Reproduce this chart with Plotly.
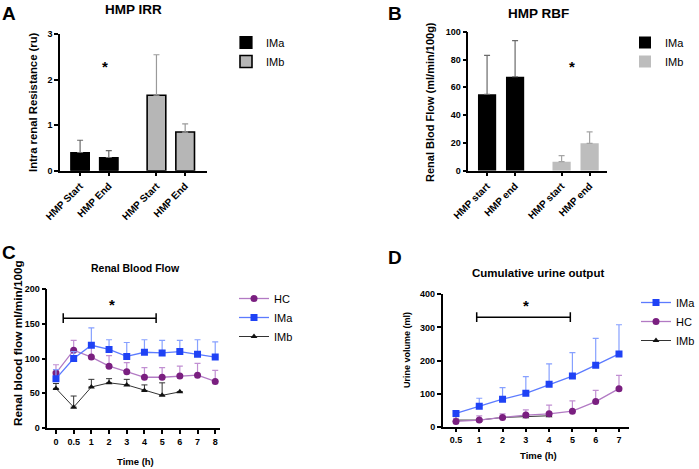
import plotly.graph_objects as go

W, H = 699, 469
FONT = "Liberation Sans, Arial, sans-serif"

# ---------------- data ----------------
# Panel A: HMP IRR
A_labels = ["HMP Start", "HMP End"]
A_ima = [0.40, 0.29]
A_ima_sd = [0.27, 0.15]
A_imb = [1.66, 0.85]
A_imb_sd = [0.89, 0.18]

# Panel B: HMP RBF
B_labels = ["HMP start", "HMP end"]
B_ima = [55.0, 67.6]
B_ima_sd = [28.0, 26.0]
B_imb = [6.5, 19.7]
B_imb_sd = [4.3, 8.3]

# Panel C: Renal Blood Flow
C_time = ["0", "0.5", "1", "2", "3", "4", "5", "6", "7", "8"]
C_hc = [79, 112, 102, 89, 81, 73, 73, 75, 76, 67]
C_hc_sd = [12, 14, 15, 15, 13, 14, 14, 14, 17, 16]
C_ima = [71, 100, 119, 113, 103, 109, 108, 110, 106, 102]
C_ima_sd = [13, 10, 25, 14, 20, 18, 18, 16, 21, 22]
C_imb_time = ["0", "0.5", "1", "2", "3", "4", "5", "6"]
C_imb = [57, 30, 59, 65, 62, 54, 47, 52]
C_imb_sd = [7, 16, 11, 6, 8, 8, 18, 0]

# Panel D: Cumulative urine output
D_time = ["0.5", "1", "2", "3", "4", "5", "6", "7"]
D_ima = [40, 62, 83, 101, 128, 153, 186, 220]
D_ima_sd = [7, 24, 35, 50, 62, 71, 81, 88]
D_hc = [16, 20, 28, 35, 39, 47, 76, 115]
D_hc_sd = [9, 13, 11, 16, 26, 31, 34, 40]
D_imb_time = ["0.5", "1", "2", "3", "4"]
D_imb = [20, 20, 28, 30, 33]

# ---------------- helpers (page pixels -> paper fractions) ----------------
def px(x):
    return x / W

def py(y):
    return 1 - y / H

def xd(a, b):
    return [px(a), px(b)]

def yd(top, bottom):
    return [py(bottom), py(top)]

GROUP_GAP = 2.66
BAR_W = 0.65

def pos(group, n):
    return [group * GROUP_GAP + i for i in range(n)]

HC_MARK, HC_LINE, HC_ERR = "#7a1f80", "#b27ac4", "#c18fd2"
IMA_MARK, IMA_LINE, IMA_ERR = "#1f42f5", "#5c7bff", "#86a0ff"
IMB_MARK, IMB_LINE = "#111111", "#333333"

def up_err(sd, color, width=3, thick=1.2):
    return dict(type="data", array=sd, arrayminus=[0] * len(sd), symmetric=False,
                color=color, thickness=thick, width=width)

fig = go.Figure()

# ---------------- Panel A ----------------
fig.add_trace(go.Bar(x=pos(0, 2), y=A_ima, width=BAR_W, name="IMa",
                     marker=dict(color="#000000", line=dict(color="#000000", width=1.2)),
                     error_y=up_err(A_ima_sd, "#6a6a6a"), xaxis="x", yaxis="y",
                     legend="legend"))
fig.add_trace(go.Bar(x=pos(1, 2), y=A_imb, width=BAR_W, name="IMb",
                     marker=dict(color="#b6b6b6", line=dict(color="#000000", width=1.6)),
                     error_y=up_err(A_imb_sd, "#9a9a9a"), xaxis="x", yaxis="y",
                     legend="legend"))

# ---------------- Panel B ----------------
fig.add_trace(go.Bar(x=pos(0, 2), y=B_ima, width=BAR_W, name="IMa",
                     marker=dict(color="#000000", line=dict(width=0)),
                     error_y=up_err(B_ima_sd, "#6a6a6a"), xaxis="x2", yaxis="y2",
                     legend="legend2"))
fig.add_trace(go.Bar(x=pos(1, 2), y=B_imb, width=BAR_W, name="IMb",
                     marker=dict(color="#bdbdbd", line=dict(width=0)),
                     error_y=up_err(B_imb_sd, "#a5a5a5"), xaxis="x2", yaxis="y2",
                     legend="legend2"))

# ---------------- Panel C ----------------
fig.add_trace(go.Scatter(x=C_imb_time, y=C_imb, name="IMb", mode="lines+markers",
                         line=dict(color=IMB_LINE, width=1),
                         marker=dict(symbol="triangle-up", size=6, color=IMB_MARK),
                         error_y=up_err(C_imb_sd, IMB_LINE, thick=1),
                         xaxis="x3", yaxis="y3", legend="legend3", legendrank=3))
fig.add_trace(go.Scatter(x=C_time, y=C_hc, name="HC", mode="lines+markers",
                         line=dict(color=HC_LINE, width=1.3),
                         marker=dict(symbol="circle", size=7, color=HC_MARK),
                         error_y=up_err(C_hc_sd, HC_ERR),
                         xaxis="x3", yaxis="y3", legend="legend3", legendrank=1))
fig.add_trace(go.Scatter(x=C_time, y=C_ima, name="IMa", mode="lines+markers",
                         line=dict(color=IMA_LINE, width=1.3),
                         marker=dict(symbol="square", size=7, color=IMA_MARK),
                         error_y=up_err(C_ima_sd, IMA_ERR),
                         xaxis="x3", yaxis="y3", legend="legend3", legendrank=2))

# ---------------- Panel D ----------------
fig.add_trace(go.Scatter(x=D_imb_time, y=D_imb, name="IMb", mode="lines+markers",
                         line=dict(color=IMB_LINE, width=1),
                         marker=dict(symbol="triangle-up", size=6, color=IMB_MARK),
                         xaxis="x4", yaxis="y4", legend="legend4", legendrank=3))
fig.add_trace(go.Scatter(x=D_time, y=D_hc, name="HC", mode="lines+markers",
                         line=dict(color=HC_LINE, width=1.3),
                         marker=dict(symbol="circle", size=7, color=HC_MARK),
                         error_y=up_err(D_hc_sd, HC_ERR),
                         xaxis="x4", yaxis="y4", legend="legend4", legendrank=2))
fig.add_trace(go.Scatter(x=D_time, y=D_ima, name="IMa", mode="lines+markers",
                         line=dict(color=IMA_LINE, width=1.3),
                         marker=dict(symbol="square", size=7, color=IMA_MARK),
                         error_y=up_err(D_ima_sd, IMA_ERR),
                         xaxis="x4", yaxis="y4", legend="legend4", legendrank=1))

# ---------------- axes ----------------
axis_common = dict(showline=True, linecolor="#000000", linewidth=1.5, ticks="outside",
                   ticklen=4, tickwidth=1.5, tickcolor="#000000", showgrid=False,
                   zeroline=False, automargin=False,
                   tickfont=dict(family=FONT, size=9, color="#000000", weight="bold"))

fig.update_layout(
    xaxis=dict(axis_common, domain=xd(60, 206.7), range=[-0.70, 4.41], anchor="y",
               tickmode="array", tickvals=pos(0, 2) + pos(1, 2), ticktext=A_labels + A_labels,
               tickangle=-45, tickfont=dict(family=FONT, size=10, color="#000000", weight="bold")),
    yaxis=dict(axis_common, domain=yd(34.3, 170.7), range=[0, 3], dtick=1, anchor="x"),
    xaxis2=dict(axis_common, domain=xd(468.3, 606.7), range=[-0.67, 4.27], anchor="y2",
                tickmode="array", tickvals=pos(0, 2) + pos(1, 2), ticktext=B_labels + B_labels,
                tickangle=-45, tickfont=dict(family=FONT, size=10, color="#000000", weight="bold")),
    yaxis2=dict(axis_common, domain=yd(31.7, 170.7), range=[0, 100], dtick=20, anchor="x2"),
    xaxis3=dict(axis_common, domain=xd(47.3, 220), type="category", range=[-0.49, 9.27],
                anchor="y3"),
    yaxis3=dict(axis_common, domain=yd(289, 428), range=[0, 200], dtick=50, anchor="x3"),
    xaxis4=dict(axis_common, domain=xd(442.7, 629), type="category", range=[-0.57, 7.43],
                anchor="y4"),
    yaxis4=dict(axis_common, domain=yd(294.3, 426.7), range=[0, 400], dtick=100, anchor="x4"),
)

# ---------------- legends ----------------
leg_font = dict(family=FONT, size=11, color="#000000")
def leg(x, y):
    return dict(x=px(x), y=py(y), xanchor="left", yanchor="top", font=leg_font,
                bgcolor="rgba(0,0,0,0)", tracegroupgap=0, itemwidth=30)

fig.update_layout(
    legend=leg(226, 28),
    legend2=leg(625, 28),
    legend3=leg(234, 284),
    legend4=leg(636, 288),
    showlegend=True,
)

# ---------------- annotations ----------------
ann = []
def text(x, y, s, size, bold=True, angle=0):
    ann.append(dict(x=px(x), y=py(y), xref="paper", yref="paper", text=s, showarrow=False,
                    xanchor="center", yanchor="middle", textangle=angle,
                    font=dict(family=FONT, size=size, color="#000000",
                              weight="bold" if bold else "normal")))

# panel letters
text(9, 13, "A", 19)
text(395, 13, "B", 19)
text(9, 252, "C", 19)
text(395, 257, "D", 19)
# titles
text(133.5, 10, "HMP IRR", 13.5)
text(538, 13, "HMP RBF", 13.5)
text(135, 268, "Renal Blood Flow", 10.5)
text(538, 273, "Cumulative urine output", 11.5)
# axis titles
text(33, 102, "Intra renal Resistance (ru)", 11.3, angle=-90)
text(430, 102, "Renal Blod Flow (ml/min/100g)", 11, angle=-90)
text(18, 343, "Renal blood flow ml/min/100g", 11.8, angle=-90)
text(407, 350, "Urine volume (ml)", 9, angle=-90)
text(135, 461, "Time (h)", 9.5)
text(538, 455, "Time (h)", 9.5)

# significance stars
def star(x, y, xref, yref):
    ann.append(dict(x=x, y=y, xref=xref, yref=yref, text="*", showarrow=False,
                    xanchor="center", yanchor="middle",
                    font=dict(family=FONT, size=15, color="#000000", weight="bold")))

star(0.87, 2.29, "x", "y")
star(3.02, 74.8, "x2", "y2")
star(3.17, 177, "x3", "y3")
star(3.0, 365, "x4", "y4")
fig.update_layout(annotations=ann)

# significance brackets
shapes = []
def bracket(x0, x1, y, cap, xref, yref):
    ln = dict(color="#000000", width=1.5)
    shapes.append(dict(type="line", x0=x0, x1=x1, y0=y, y1=y, xref=xref, yref=yref, line=ln))
    shapes.append(dict(type="line", x0=x0, x1=x0, y0=y - cap, y1=y + cap, xref=xref, yref=yref, line=ln))
    shapes.append(dict(type="line", x0=x1, x1=x1, y0=y - cap, y1=y + cap, xref=xref, yref=yref, line=ln))

bracket(0.41, 5.66, 158, 7, "x3", "y3")
bracket(0.89, 4.91, 331, 15, "x4", "y4")
fig.update_layout(shapes=shapes)

fig.update_layout(width=W, height=H, margin=dict(l=0, r=0, t=0, b=0, autoexpand=False),
                  paper_bgcolor="#ffffff", plot_bgcolor="#ffffff",
                  font=dict(family=FONT, color="#000000"), barmode="overlay")

# the browser's default 8px page margin would shift the figure; remove it
fig.write_html("out.html", config={"displayModeBar": False},
               post_script="document.body.style.margin='0px';")
